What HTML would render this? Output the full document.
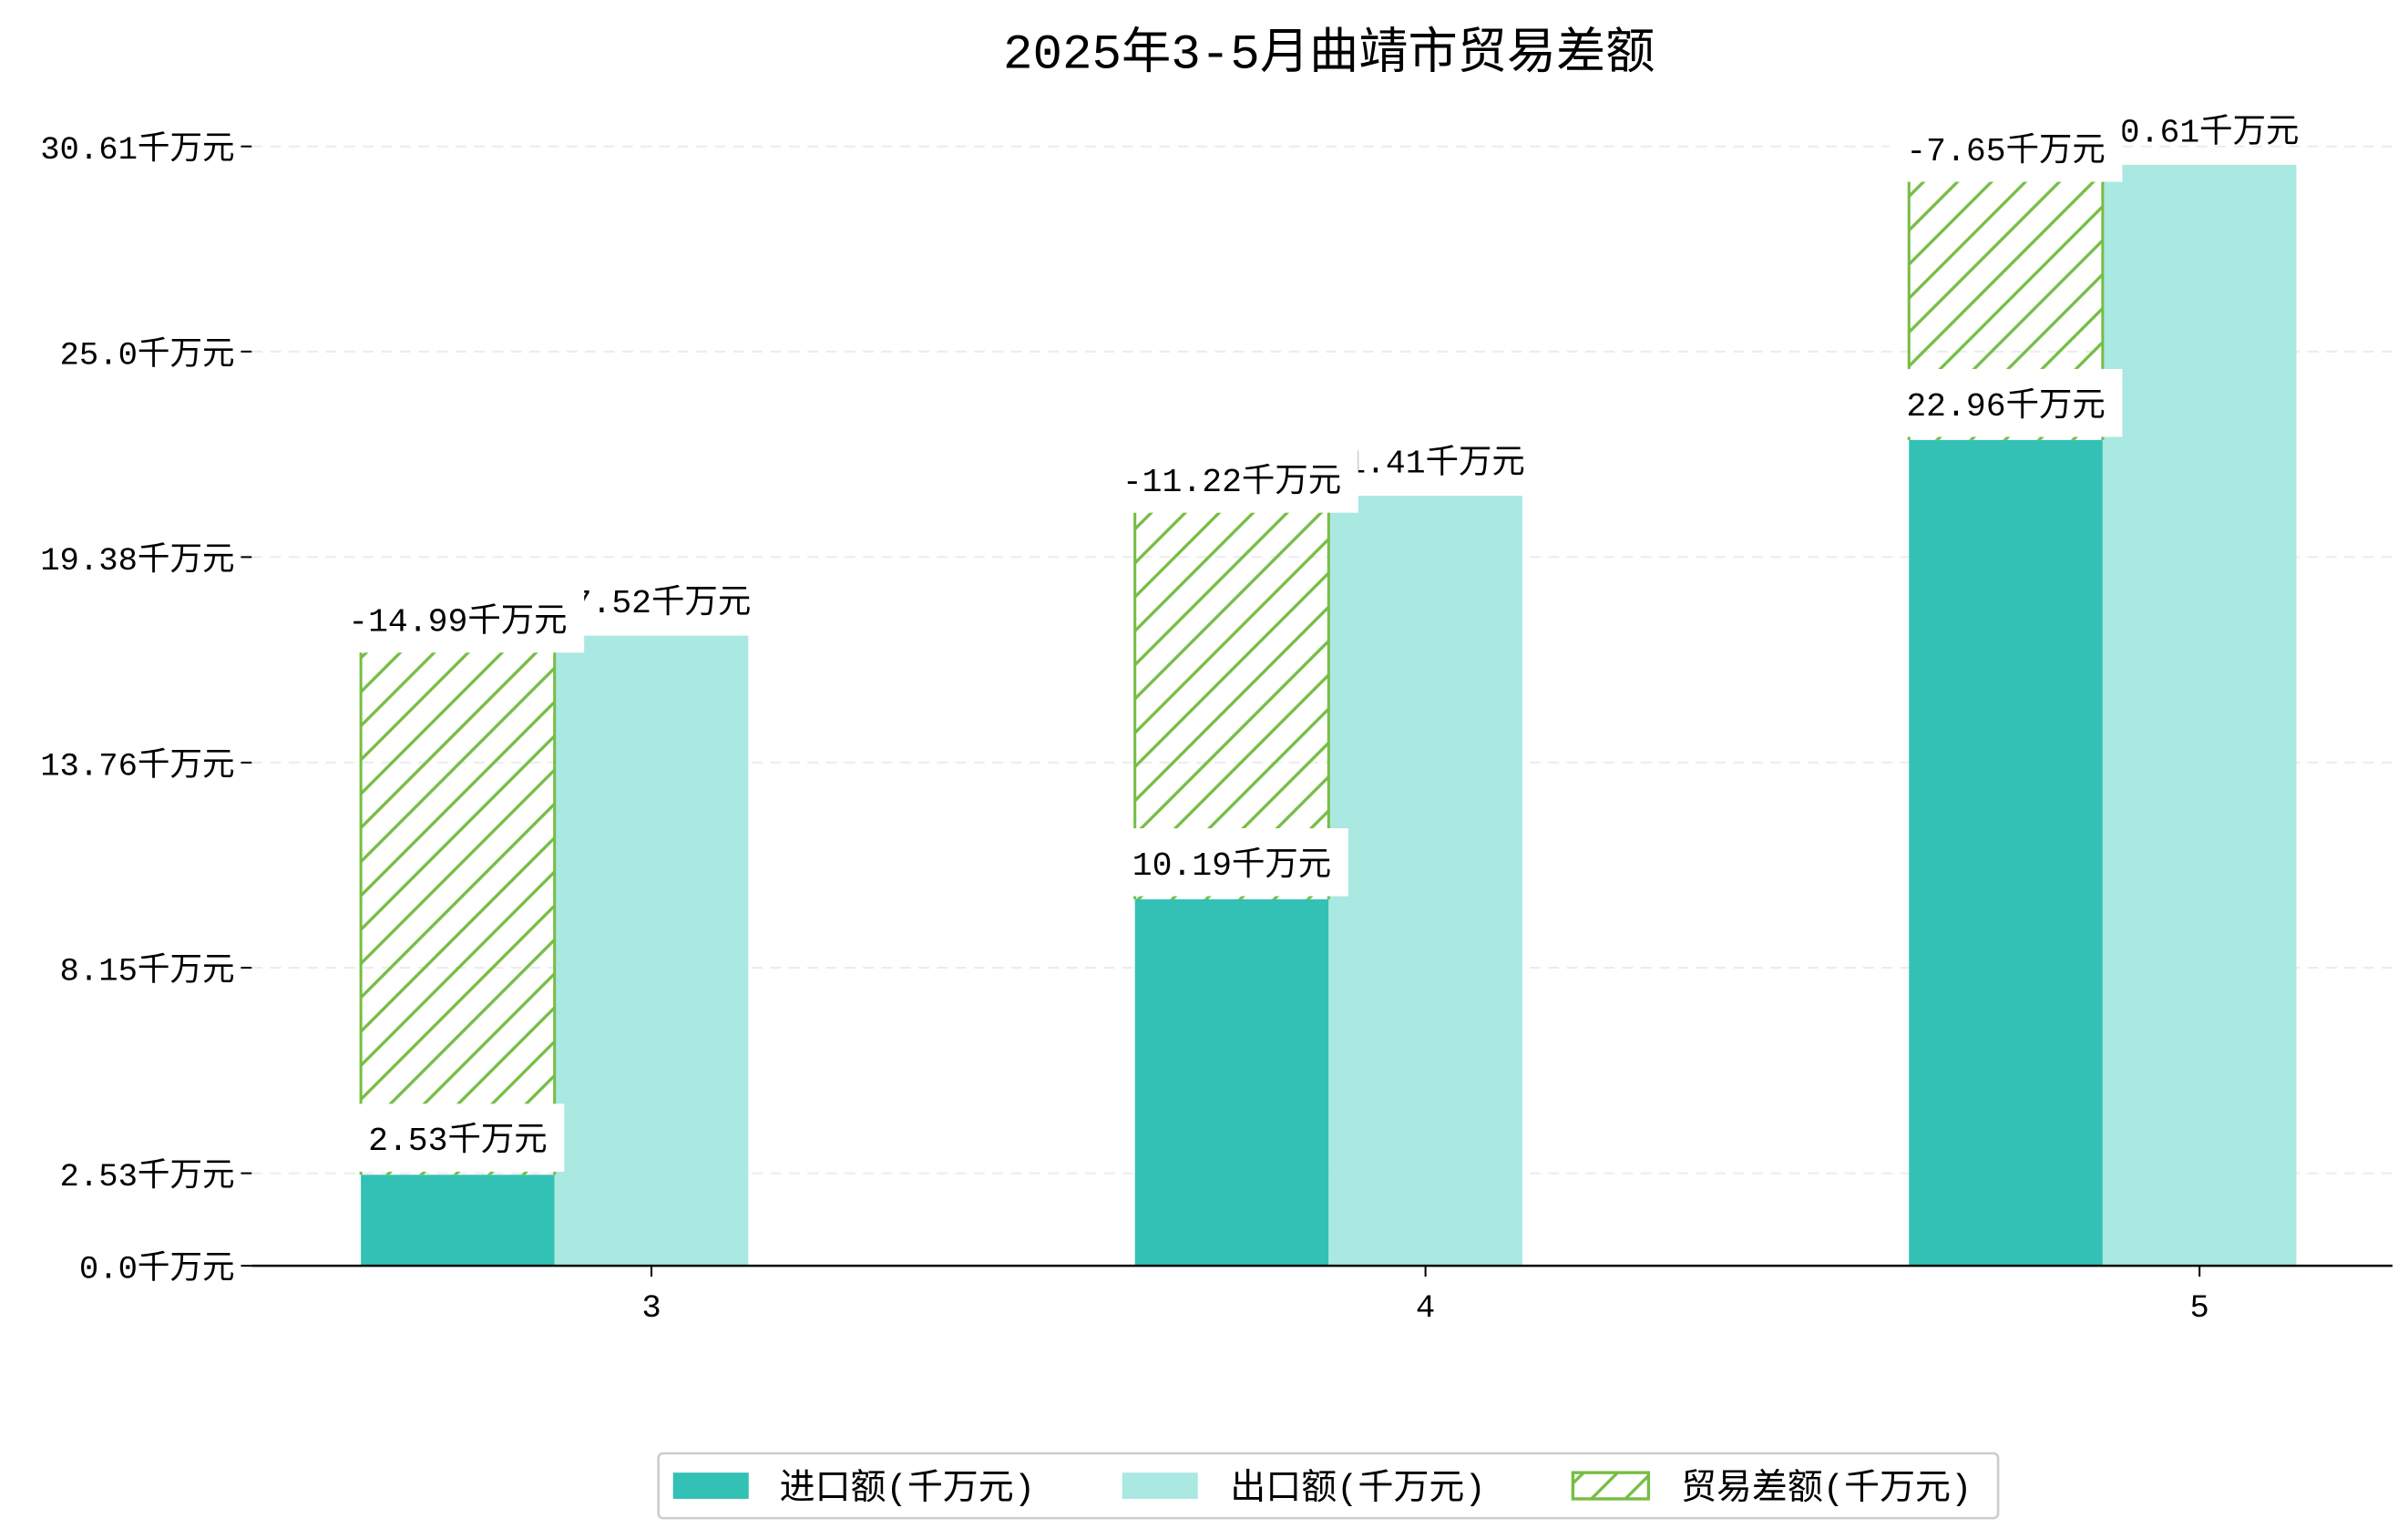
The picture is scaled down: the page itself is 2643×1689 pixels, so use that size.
<!DOCTYPE html>
<html><head><meta charset="utf-8"><style>
html,body{margin:0;padding:0;background:#fff;}
svg{display:block;font-family:"Liberation Mono","Noto Sans CJK SC",monospace;}
</style></head><body>
<svg id="chart" width="2643" height="1689" viewBox="0 0 1560 997" xmlns="http://www.w3.org/2000/svg">
<defs>
<pattern id="hatch" patternUnits="userSpaceOnUse" width="22" height="22">
<path d="M-2,24 L24,-2 M-13,13 L13,-13 M9,35 L35,9" stroke="#77bd45" stroke-width="2"/>
</pattern>
</defs>
<text x="861" y="44" text-anchor="middle" font-size="32">2025年3-5月曲靖市贸易差额</text>
<g id="grid"></g><g id="bars"></g><g id="labels"></g><g id="axes"></g>
<g>
<rect x="426.5" y="941.5" width="868" height="42" rx="3" fill="#fff" stroke="#ccc" stroke-width="1.5"/>
<rect x="436" y="954" width="49" height="17" fill="#32c1b4"/>
<text x="505" y="971" font-size="23">进口额(千万元)</text>
<rect x="727" y="954" width="49" height="17" fill="#aae8e2"/>
<text x="797" y="971" font-size="23">出口额(千万元)</text>
<rect x="1019" y="954" width="49" height="17" fill="url(#hatch)" stroke="#77bd45" stroke-width="2"/>
<text x="1089" y="971" font-size="23">贸易差额(千万元)</text>
</g>
</svg>
<script>
const categories = ["3", "4", "5"];
const imports = [2.53, 10.19, 22.96];
const exports = [17.52, 21.41, 30.61];
const balance = [-14.99, -11.22, -7.65];
const tickValues = [0, 2.53, 8.15, 13.76, 19.38, 25.0, 30.61];
const tickLabels = ["0.0千万元", "2.53千万元", "8.15千万元", "13.76千万元", "19.38千万元", "25.0千万元", "30.61千万元"];

const NS = "http://www.w3.org/2000/svg";
const X0 = 163, X1 = 1550, Y0 = 820;
function yTick(v){ return Y0 - v * 23.69; }
function yBar(v){ return Y0 - v * 23.3; }
function xCat(i){ return 422 + i * 501.5; }
const BW = 125.5;
function mk(tag, attrs, parent){
  const e = document.createElementNS(NS, tag);
  for (const k in attrs) e.setAttribute(k, attrs[k]);
  parent.appendChild(e);
  return e;
}
const grid = document.getElementById('grid');
const bars = document.getElementById('bars');
const labels = document.getElementById('labels');
const axes = document.getElementById('axes');

tickValues.forEach((v, i) => {
  const y = yTick(v);
  if (v > 0) {
    const g = mk('line', {x1: X0, x2: X1, y1: y, y2: y, stroke: '#ececec', 'stroke-width': 1.2, 'stroke-dasharray': '7,5'}, grid);
    
    
  }
  const t = mk('line', {x1: X0 - 7, x2: X0, y1: y, y2: y, stroke: '#000', 'stroke-width': 1.2}, axes);
  
  
  const l = mk('text', {x: 152, y: y + 8, 'text-anchor': 'end', 'font-size': 21}, axes);
  l.textContent = tickLabels[i];
  
  
});
const ax = mk('line', {x1: X0, x2: X1, y1: Y0, y2: Y0, stroke: '#000', 'stroke-width': 1.5}, axes);



function label(cx, v, txt, name, dy, withBox){
  const y = yBar(v);
  const t = mk('text', {x: cx, y: y + dy, 'text-anchor': 'middle', 'font-size': 21.5}, labels);
  t.textContent = txt;
  
  
  if (withBox) {
    const bb = t.getBBox();
    const r = mk('rect', {x: bb.x - 11, y: y + dy - 30, width: bb.width + 22, height: 44, fill: '#fff'}, labels);
    
    
    labels.insertBefore(r, t);
  }
}

categories.forEach((c, i) => {
  const cx = xCat(i);
  const ex = cx - BW / 2, ix = ex - BW;
  const ib = mk('rect', {x: ix, y: yBar(imports[i]), width: BW, height: Y0 - yBar(imports[i]), fill: '#32c1b4'}, bars);
  
  
  const eb = mk('rect', {x: ex, y: yBar(exports[i]), width: BW, height: Y0 - yBar(exports[i]), fill: '#aae8e2'}, bars);
  
  
  const top = imports[i] - balance[i];
  const yT = yBar(top), yB = yBar(imports[i]);
  const hb = mk('rect', {x: ix, y: yT, width: BW, height: yB - yT, fill: 'url(#hatch)'}, bars);
  
  
  const sides = mk('path', {d: 'M' + ix + ',' + yT + 'V' + yB + 'M' + (ix + BW) + ',' + yT + 'V' + yB, stroke: '#77bd45', 'stroke-width': 1.8, fill: 'none'}, bars);
  
  
  const tk = mk('line', {x1: cx, x2: cx, y1: Y0, y2: Y0 + 7, stroke: '#000', 'stroke-width': 1.2}, axes);
  
  
  const xl = mk('text', {x: cx, y: Y0 + 33, 'text-anchor': 'middle', 'font-size': 21}, axes);
  xl.textContent = c;
  
  
});
categories.forEach((c, i) => {
  const cx = xCat(i);
  const ex = cx - BW / 2, ic = ex - BW / 2;
  label(ic, imports[i], imports[i].toFixed(2) + '千万元', 'import-value-label', -16, true);
  label(cx, exports[i], exports[i].toFixed(2) + '千万元', 'export-value-label', -15, false);
  label(ic, imports[i] - balance[i], balance[i].toFixed(2) + '千万元', 'balance-value-label', -3, true);
});
</script>
</body></html>
